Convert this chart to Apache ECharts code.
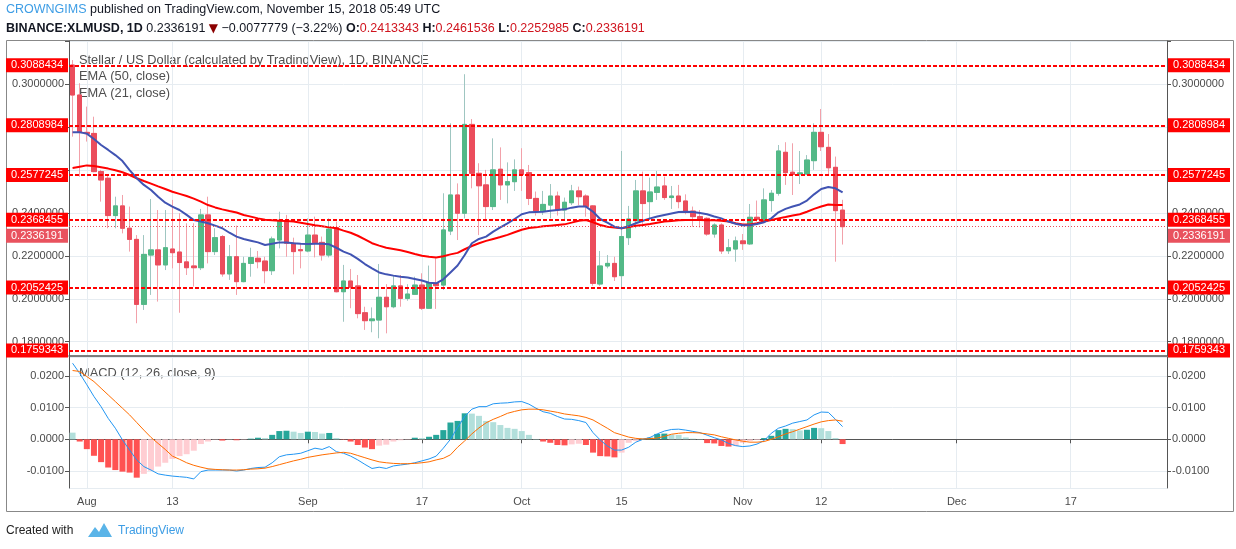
<!DOCTYPE html>
<html><head><meta charset="utf-8">
<script src="https://cdn.jsdelivr.net/npm/echarts@6/dist/echarts.min.js"></script>
<style>html,body{margin:0;padding:0;background:#fff}#c{width:1236px;height:549px}</style>
</head><body><div id="c"></div>
<script>
// ---------------- data ----------------
const startDate = '2018-07-30';
const totalDays = 154; // Jul 30 .. Dec 30 (x-axis range incl. empty future)
const tickLabels = {'2018-08-01':'Aug','2018-08-13':'13','2018-09-01':'Sep','2018-09-17':'17','2018-10-01':'Oct',
  '2018-10-15':'15','2018-11-01':'Nov','2018-11-12':'12','2018-12-01':'Dec','2018-12-17':'17'};
const hiddenPriceLabels = ['0.2600000', '0.2800000'];

const open = [0.3090,0.2950,0.2776,0.2771,0.2593,0.2562,0.2388,0.2433,0.2329,0.2277,
0.1974,0.2204,0.2228,0.2158,0.2232,0.2218,0.2172,0.2153,0.2145,0.2391,
0.2220,0.2290,0.2116,0.2196,0.2080,0.2165,0.2189,0.2176,0.2131,0.2274,
0.2360,0.2259,0.2229,0.2223,0.2297,0.2263,0.2204,0.2332,0.2033,0.2083,
0.2060,0.1935,0.1898,0.1901,0.2007,0.1963,0.2060,0.2002,0.2021,0.2064,
0.1956,0.2072,0.2064,0.2316,0.2484,0.2399,0.2813,0.2585,0.2531,0.2430,
0.2604,0.2531,0.2546,0.2601,0.2588,0.2468,0.2409,0.2437,0.2479,0.2414,
0.2448,0.2503,0.2479,0.2433,0.2069,0.2153,0.2165,0.2108,0.2285,0.2364,
0.2503,0.2453,0.2496,0.2526,0.2472,0.2479,0.2456,0.2409,0.2383,0.2375,
0.2302,0.2344,0.2224,0.2232,0.2270,0.2256,0.2380,0.2363,0.2458,0.2492,
0.2683,0.2590,0.2582,0.2582,0.2644,0.2776,0.2706,0.2613,0.2413343];
const close = [0.2950,0.2776,0.2770,0.2593,0.2554,0.2388,0.2433,0.2329,0.2277,0.1974,
0.2207,0.2228,0.2158,0.2238,0.2215,0.2169,0.2145,0.2145,0.2391,0.2220,
0.2285,0.2116,0.2196,0.2080,0.2165,0.2192,0.2173,0.2131,0.2279,0.2360,
0.2259,0.2220,0.2224,0.2297,0.2262,0.2204,0.2325,0.2033,0.2083,0.2054,
0.1931,0.1898,0.1906,0.2007,0.1963,0.2060,0.2002,0.2022,0.2064,0.1956,
0.2072,0.2061,0.2321,0.2484,0.2399,0.2813,0.2585,0.2527,0.2430,0.2601,
0.2531,0.2546,0.2601,0.2580,0.2468,0.2409,0.2440,0.2479,0.2414,0.2450,
0.2503,0.2476,0.2430,0.2072,0.2153,0.2165,0.2103,0.2290,0.2372,0.2503,
0.2444,0.2498,0.2521,0.2472,0.2479,0.2453,0.2409,0.2383,0.2372,0.2302,
0.2344,0.2223,0.2238,0.2270,0.2257,0.2380,0.2371,0.2461,0.2492,0.2689,
0.2588,0.2580,0.2587,0.2647,0.2776,0.2709,0.2611,0.2411,0.2336191];
const high = [0.3113,0.3005,0.2896,0.2849,0.2601,0.2577,0.2476,0.2484,0.2430,0.2297,
0.2297,0.2465,0.2414,0.2414,0.2461,0.2399,0.2352,0.2352,0.2419,0.2476,
0.2329,0.2297,0.2251,0.2341,0.2196,0.2238,0.2223,0.2196,0.2290,0.2406,
0.2391,0.2285,0.2259,0.2375,0.2383,0.2290,0.2375,0.2360,0.2158,0.2139,
0.2111,0.1963,0.1960,0.2162,0.2068,0.2111,0.2111,0.2068,0.2103,0.2119,
0.2155,0.2189,0.2492,0.2818,0.2538,0.3047,0.2838,0.2632,0.2601,0.2748,
0.2706,0.2636,0.2650,0.2702,0.2624,0.2500,0.2503,0.2535,0.2500,0.2472,
0.2531,0.2523,0.2487,0.2437,0.2223,0.2204,0.2196,0.2689,0.2433,0.2554,
0.2593,0.2565,0.2596,0.2569,0.2526,0.2531,0.2487,0.2430,0.2414,0.2380,
0.2352,0.2352,0.2279,0.2290,0.2302,0.2442,0.2458,0.2515,0.2507,0.2717,
0.2730,0.2725,0.2689,0.2670,0.2818,0.2885,0.2768,0.2663,0.2461536];
const low = [0.2756,0.2569,0.2733,0.2590,0.2453,0.2329,0.2329,0.2305,0.2220,0.1886,
0.1948,0.2018,0.1987,0.2134,0.2142,0.1935,0.2111,0.2057,0.2134,0.2165,
0.2204,0.2103,0.2088,0.2018,0.2077,0.2103,0.2142,0.2072,0.2111,0.2235,
0.2196,0.2114,0.2142,0.2217,0.2193,0.2178,0.2193,0.2030,0.1893,0.1956,
0.1909,0.1855,0.1844,0.1816,0.1839,0.1956,0.1963,0.1991,0.2018,0.1948,
0.1953,0.1953,0.2041,0.2297,0.2274,0.2375,0.2515,0.2297,0.2367,0.2414,
0.2461,0.2445,0.2503,0.2503,0.2437,0.2388,0.2391,0.2375,0.2388,0.2372,
0.2437,0.2437,0.2383,0.2061,0.2061,0.2142,0.2083,0.2046,0.2251,0.2329,
0.2344,0.2367,0.2461,0.2461,0.2419,0.2422,0.2394,0.2336,0.2332,0.2294,
0.2285,0.2209,0.2209,0.2173,0.2228,0.2251,0.2360,0.2360,0.2406,0.2481,
0.2531,0.2484,0.2535,0.2577,0.2601,0.2689,0.2577,0.2173,0.2252985];
const ema50 = [0.2610,0.2616,0.2622,0.2619,0.2613,0.2607,0.2599,0.2590,0.2577,0.2562,
0.2549,0.2537,0.2524,0.2512,0.2499,0.2489,0.2479,0.2467,0.2453,0.2437,
0.2426,0.2417,0.2409,0.2402,0.2391,0.2383,0.2375,0.2369,0.2366,0.2364,
0.2363,0.2360,0.2355,0.2349,0.2343,0.2338,0.2333,0.2329,0.2318,0.2308,
0.2294,0.2277,0.2259,0.2248,0.2238,0.2232,0.2226,0.2218,0.2209,0.2201,
0.2196,0.2193,0.2198,0.2207,0.2214,0.2231,0.2246,0.2259,0.2270,0.2279,
0.2288,0.2298,0.2310,0.2322,0.2330,0.2333,0.2338,0.2341,0.2344,0.2347,
0.2355,0.2364,0.2367,0.2357,0.2344,0.2336,0.2332,0.2329,0.2335,0.2341,
0.2344,0.2349,0.2355,0.2360,0.2363,0.2366,0.2367,0.2367,0.2367,0.2366,
0.2366,0.2364,0.2360,0.2352,0.2346,0.2346,0.2352,0.2360,0.2367,0.2375,
0.2381,0.2388,0.2394,0.2406,0.2419,0.2430,0.2440,0.2437,0.2437];
const ema21 = [0.2776,0.2776,0.2770,0.2745,0.2717,0.2694,0.2670,0.2642,0.2600,0.2562,
0.2531,0.2507,0.2476,0.2448,0.2430,0.2414,0.2391,0.2367,0.2360,0.2352,
0.2341,0.2329,0.2308,0.2290,0.2279,0.2271,0.2263,0.2251,0.2257,0.2263,
0.2262,0.2259,0.2257,0.2256,0.2257,0.2257,0.2254,0.2238,0.2220,0.2207,
0.2186,0.2162,0.2142,0.2123,0.2114,0.2108,0.2103,0.2099,0.2092,0.2085,
0.2075,0.2072,0.2091,0.2123,0.2155,0.2204,0.2259,0.2279,0.2290,0.2313,
0.2333,0.2352,0.2372,0.2394,0.2403,0.2405,0.2406,0.2411,0.2414,0.2417,
0.2425,0.2430,0.2430,0.2406,0.2372,0.2355,0.2336,0.2329,0.2339,0.2352,
0.2364,0.2375,0.2384,0.2391,0.2398,0.2405,0.2406,0.2405,0.2400,0.2394,
0.2384,0.2375,0.2360,0.2350,0.2343,0.2343,0.2349,0.2357,0.2375,0.2403,
0.2419,0.2430,0.2440,0.2458,0.2487,0.2512,0.2521,0.2515,0.2496];
const macd = [0.0240,0.0208,0.0172,0.0135,0.0103,0.0066,0.0035,-0.0002,-0.0034,-0.0065,
-0.0086,-0.0097,-0.0109,-0.0113,-0.0116,-0.0118,-0.0120,-0.0125,-0.0102,-0.0097,
-0.0097,-0.0097,-0.0097,-0.0100,-0.0097,-0.0092,-0.0089,-0.0088,-0.0074,-0.0055,
-0.0049,-0.0047,-0.0044,-0.0036,-0.0028,-0.0032,-0.0023,-0.0039,-0.0044,-0.0053,
-0.0065,-0.0079,-0.0092,-0.0088,-0.0092,-0.0084,-0.0081,-0.0078,-0.0074,-0.0068,
-0.0062,-0.0053,-0.0028,0.0000,0.0037,0.0072,0.0095,0.0103,0.0103,0.0112,
0.0114,0.0115,0.0118,0.0119,0.0111,0.0098,0.0087,0.0082,0.0072,0.0064,
0.0063,0.0059,0.0053,0.0021,-0.0002,-0.0021,-0.0034,-0.0034,-0.0025,-0.0009,
0.0000,0.0006,0.0017,0.0026,0.0031,0.0032,0.0029,0.0025,0.0021,0.0013,
0.0005,-0.0002,-0.0013,-0.0020,-0.0023,-0.0021,-0.0015,-0.0004,0.0019,0.0035,
0.0042,0.0051,0.0056,0.0061,0.0077,0.0086,0.0085,0.0063,0.0040];
const signal = [0.0217,0.0214,0.0198,0.0182,0.0161,0.0140,0.0119,0.0098,0.0077,0.0053,
0.0029,0.0006,-0.0013,-0.0032,-0.0053,-0.0063,-0.0074,-0.0082,-0.0088,-0.0093,
-0.0095,-0.0096,-0.0097,-0.0097,-0.0096,-0.0094,-0.0093,-0.0091,-0.0086,-0.0080,
-0.0074,-0.0068,-0.0063,-0.0057,-0.0053,-0.0049,-0.0046,-0.0043,-0.0041,-0.0044,
-0.0051,-0.0058,-0.0065,-0.0071,-0.0074,-0.0076,-0.0077,-0.0077,-0.0076,-0.0074,
-0.0071,-0.0065,-0.0060,-0.0049,-0.0025,-0.0005,0.0017,0.0036,0.0052,0.0063,
0.0072,0.0082,0.0088,0.0093,0.0095,0.0095,0.0093,0.0089,0.0085,0.0080,
0.0077,0.0074,0.0069,0.0061,0.0048,0.0035,0.0021,0.0014,0.0007,0.0003,
0.0001,0.0002,0.0004,0.0009,0.0016,0.0019,0.0021,0.0021,0.0020,0.0017,
0.0014,0.0008,0.0003,-0.0002,-0.0006,-0.0009,-0.0009,-0.0007,0.0000,0.0008,
0.0017,0.0024,0.0032,0.0040,0.0048,0.0055,0.0059,0.0061,0.0057];
const hist = [0.0021,-0.0007,-0.0031,-0.0052,-0.0072,-0.0089,-0.0097,-0.0102,-0.0105,-0.0121,
-0.0109,-0.0099,-0.0086,-0.0074,-0.0062,-0.0053,-0.0047,-0.0036,-0.0015,-0.0007,
-0.0001,-0.0004,-0.0001,-0.0003,-0.0001,0.0002,0.0005,0.0004,0.0014,0.0026,
0.0027,0.0024,0.0020,0.0024,0.0023,0.0018,0.0020,0.0004,-0.0001,-0.0007,
-0.0018,-0.0026,-0.0031,-0.0020,-0.0017,-0.0007,-0.0003,-0.0001,0.0005,0.0004,
0.0008,0.0014,0.0029,0.0053,0.0058,0.0082,0.0081,0.0074,0.0058,0.0054,
0.0045,0.0036,0.0033,0.0026,0.0014,0.0001,-0.0007,-0.0011,-0.0018,-0.0019,
-0.0016,-0.0014,-0.0018,-0.0042,-0.0053,-0.0054,-0.0057,-0.0042,-0.0011,-0.0005,
0.0002,0.0005,0.0017,0.0018,0.0015,0.0014,0.0006,0.0002,0.0001,-0.0012,
-0.0013,-0.0021,-0.0023,-0.0021,-0.0011,-0.0005,-0.0002,0.0004,0.0011,0.0029,
0.0033,0.0032,0.0028,0.0030,0.0036,0.0035,0.0026,0.0004,-0.0015];
const levels = [0.3088434, 0.2808984, 0.2577245, 0.2368455, 0.2052425, 0.1759343];
const lastPrice = 0.2336191;

// ---------------- build ----------------
const cats = [];
{ const d = new Date(startDate + 'T00:00:00Z');
  while (cats.length < totalDays) { cats.push(d.toISOString().slice(0,10)); d.setUTCDate(d.getUTCDate()+1); } }
const isTick = (i, v) => tickLabels[v] !== undefined;

const FONT = 'Liberation Sans, Arial, sans-serif';
const AX = '#4a4a4a', AXLINE = '#555', GRIDC = '#e6ecf1';
const UP = '#53b987', DN = '#eb4d5c', UPW = '#9fc6c1', DNW = '#f2a1aa';

const ohlc = open.map((o, i) => [o, close[i], low[i], high[i]]);
const bodies = open.map((o, i) => [o, close[i], Math.min(o, close[i]), Math.max(o, close[i])]);

const lvlData = [];
levels.forEach(v => {
  const t = v.toFixed(7);
  lvlData.push({yAxis: v, name: t, label: {position: 'start'}});
  lvlData.push({yAxis: v, name: t, label: {position: 'end'}});
});
['start', 'end'].forEach(pos => lvlData.push({
  yAxis: lastPrice, name: lastPrice.toFixed(7),
  lineStyle: {type: [1, 2], width: 1, color: '#e8505b'},
  label: {position: pos, backgroundColor: '#e9525e', offset: [0, 9]}
}));

const priceFmt = v => {
  if (v > 0.31 || v < 0.175) return '';
  const t = v.toFixed(7);
  return hiddenPriceLabels.indexOf(t) >= 0 ? '' : t;
};
const priceAxis = (pos) => ({
  gridIndex: 0, type: 'value', position: pos, min: 0.17333, max: 0.32019, splitNumber: 7,
  axisLine: {show: true, lineStyle: {color: AXLINE}},
  axisTick: {show: true, length: 4, lineStyle: {color: AXLINE}},
  axisLabel: {formatter: priceFmt, color: AX, fontSize: 11, fontFamily: FONT, margin: 5,
    showMinLabel: false, showMaxLabel: false},
  splitLine: {show: pos === 'left', lineStyle: {color: GRIDC}}
});
const macdAxis = (pos) => ({
  gridIndex: 1, type: 'value', position: pos, min: -0.01536, max: 0.02596, splitNumber: 4,
  axisLine: {show: true, lineStyle: {color: AXLINE}},
  axisTick: {show: true, length: 4, lineStyle: {color: AXLINE}},
  axisLabel: {formatter: v => v.toFixed(4), color: AX, fontSize: 11, fontFamily: FONT, margin: 5,
    showMinLabel: false, showMaxLabel: false},
  splitLine: {show: pos === 'left', lineStyle: {color: GRIDC}}
});

const histColor = (p) => {
  const i = p.dataIndex, v = hist[i], pv = i > 0 ? hist[i-1] : Infinity;
  if (v >= 0) return v >= pv ? '#26a69a' : '#b2dfdb';
  return v < pv ? '#ff5252' : '#ffcdd2';
};

const option = {
  animation: false,
  backgroundColor: '#fff',
  grid: [
    {left: 69, right: 69, top: 41, height: 315},
    {left: 69, right: 69, top: 357, height: 131}
  ],
  xAxis: [
    {gridIndex: 0, type: 'category', data: cats, boundaryGap: true,
      axisLine: {show: true, lineStyle: {color: AXLINE, width: 1.5}}, axisTick: {show: false}, axisLabel: {show: false},
      splitLine: {show: true, interval: isTick, alignWithLabel: true, lineStyle: {color: GRIDC}}},
    {gridIndex: 1, type: 'category', data: cats, boundaryGap: true,
      axisLine: {show: true, lineStyle: {color: AXLINE}},
      axisTick: {show: true, interval: isTick, alignWithLabel: true, length: 4, lineStyle: {color: AXLINE}},
      axisLabel: {interval: isTick, formatter: v => tickLabels[v] || '', color: AX, fontSize: 11, fontFamily: FONT, margin: 8},
      splitLine: {show: true, interval: isTick, alignWithLabel: true, lineStyle: {color: GRIDC}}}
  ],
  yAxis: [priceAxis('left'), priceAxis('right'), macdAxis('left'), macdAxis('right')],
  series: [
    {type: 'candlestick', xAxisIndex: 0, yAxisIndex: 0, data: ohlc, barWidth: 5,
      itemStyle: {color: UP, color0: DN, borderColor: UPW, borderColor0: DNW, borderWidth: 1}},
    {type: 'candlestick', xAxisIndex: 0, yAxisIndex: 0, data: bodies, barWidth: 5,
      itemStyle: {color: UP, color0: DN, borderColor: UP, borderColor0: DN, borderWidth: 1}},
    {type: 'line', name: 'EMA50', xAxisIndex: 0, yAxisIndex: 0, data: ema50, symbol: 'none',
      lineStyle: {color: '#ff0000', width: 2}},
    {type: 'line', name: 'EMA21', xAxisIndex: 0, yAxisIndex: 0, data: ema21, symbol: 'none',
      lineStyle: {color: '#4154b3', width: 2}},
    {type: 'line', name: 'levels', xAxisIndex: 0, yAxisIndex: 0, data: [], clip: false, z: 5,
      markLine: {silent: true, symbol: ['none', 'none'], animation: false, precision: 7,
        lineStyle: {color: '#ff0000', width: 2, type: [4, 2]},
        label: {show: true, formatter: '{b}', color: '#fff', backgroundColor: '#ff0000',
          padding: [2, 5, 1, 5], fontSize: 11, fontFamily: FONT, distance: 1},
        data: lvlData}},
    {type: 'bar', xAxisIndex: 1, yAxisIndex: 2, data: hist, barWidth: 6, itemStyle: {color: histColor}},
    {type: 'line', xAxisIndex: 1, yAxisIndex: 2, data: macd, symbol: 'none', lineStyle: {color: '#2196f3', width: 1}},
    {type: 'line', xAxisIndex: 1, yAxisIndex: 2, data: signal, symbol: 'none', lineStyle: {color: '#ff6d00', width: 1}}
  ],
  graphic: [
    {type: 'rect', shape: {x: 6.5, y: 40.5, width: 1227, height: 471}, style: {fill: 'none', stroke: '#888', lineWidth: 1}, silent: true, z: -1},
    {type: 'text', left: 6, top: 3, style: {
      text: '{a|CROWNGIMS}{b| published on TradingView.com, November 15, 2018 05:49 UTC}',
      rich: {a: {fontSize: 12.5, fontFamily: FONT, fill: '#3d9de5'}, b: {fontSize: 12.5, fontFamily: FONT, fill: '#131722'}}}},
    {type: 'text', left: 6, top: 22, style: {
      text: '{k|BINANCE:XLMUSD, 1D}{n| 0.2336191 }{d|▼}{n| −0.0077779 (−3.22%) }{k|O:}{r|0.2413343}{k| H:}{r|0.2461536}{k| L:}{r|0.2252985}{k| C:}{r|0.2336191}',
      rich: {k: {fontSize: 12.5, fontWeight: 'bold', fontFamily: FONT, fill: '#131722'},
             n: {fontSize: 12.5, fontFamily: FONT, fill: '#131722'},
             d: {fontSize: 12, fontFamily: 'DejaVu Sans', fill: '#8b0000'},
             r: {fontSize: 12.5, fontFamily: FONT, fill: '#d0141e'}}}},
    {type: 'text', left: 79, top: 54, style: {text: 'Stellar / US Dollar (calculated by TradingView), 1D, BINANCE', fontSize: 12.8, fontFamily: FONT, fill: '#4f4f4f'}},
    {type: 'text', left: 79, top: 70, style: {text: 'EMA (50, close)', fontSize: 12.8, fontFamily: FONT, fill: '#4f4f4f'}},
    {type: 'text', left: 79, top: 87, style: {text: 'EMA (21, close)', fontSize: 12.8, fontFamily: FONT, fill: '#4f4f4f'}},
    {type: 'text', left: 79, top: 367, style: {text: 'MACD (12, 26, close, 9)', fontSize: 12.8, fontFamily: FONT, fill: '#4f4f4f'}},
    {type: 'text', left: 6, top: 525, style: {text: 'Created with', fontSize: 12, fontFamily: FONT, fill: '#222'}},
    {type: 'polygon', shape: {points: [[88,537],[95,527],[99,532],[104,523],[112,537]]}, style: {fill: '#5ab4e8'}},
    {type: 'text', left: 118, top: 525, style: {text: 'TradingView', fontSize: 12, fontFamily: FONT, fill: '#3d9de5'}}
  ]
};
const chart = echarts.init(document.getElementById('c'), null, {renderer: 'canvas', width: 1236, height: 549});
chart.setOption(option);
</script></body></html>
